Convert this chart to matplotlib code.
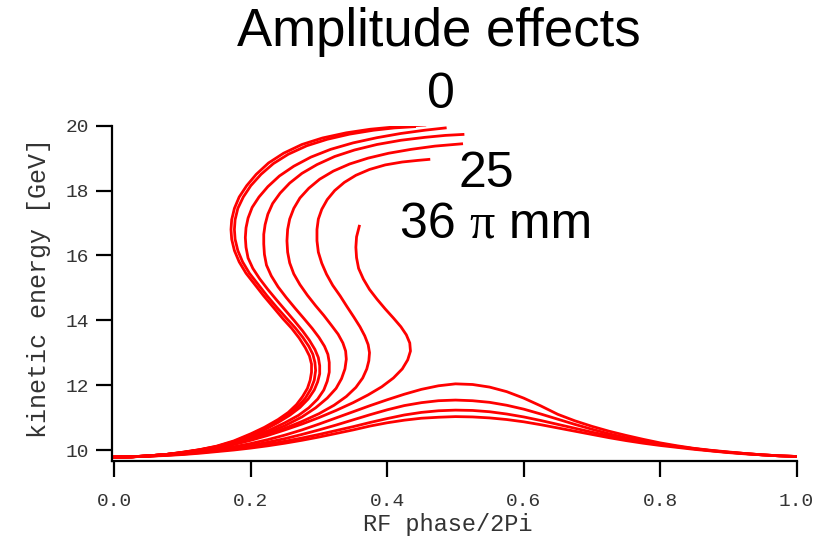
import matplotlib
matplotlib.use('Agg')
import matplotlib.pyplot as plt
from matplotlib.offsetbox import TextArea, HPacker, AnnotationBbox

# S-shaped tracks (phase, energy), from the outer one (0 pi mm) to the inner one (36 pi mm)
curve_a_x = [0.0, 0.025, 0.05, 0.075, 0.1, 0.125, 0.15, 0.175, 0.2, 0.22, 0.24, 0.255, 0.267, 0.276, 0.283, 0.287, 0.289, 0.289, 0.286, 0.280, 0.271, 0.26, 0.247, 0.233, 0.219, 0.206, 0.193, 0.183, 0.176, 0.172, 0.171, 0.172, 0.176, 0.183, 0.194, 0.208, 0.226, 0.248, 0.275, 0.305, 0.34, 0.375, 0.415, 0.455]
curve_a_y = [9.78, 9.79, 9.82, 9.86, 9.93, 10.01, 10.12, 10.28, 10.5, 10.7, 10.94, 11.16, 11.4, 11.65, 11.9, 12.15, 12.4, 12.65, 12.9, 13.15, 13.45, 13.75, 14.05, 14.4, 14.75, 15.1, 15.45, 15.8, 16.15, 16.5, 16.8, 17.1, 17.45, 17.8, 18.15, 18.5, 18.85, 19.15, 19.42, 19.62, 19.78, 19.89, 19.97, 20.02]

curve_b_x = [0.0, 0.025, 0.05, 0.075, 0.1, 0.125, 0.15, 0.175, 0.2, 0.22, 0.24, 0.256, 0.27, 0.28, 0.288, 0.293, 0.295, 0.294, 0.291, 0.285, 0.276, 0.265, 0.252, 0.238, 0.224, 0.211, 0.198, 0.188, 0.181, 0.177, 0.176, 0.177, 0.181, 0.189, 0.2, 0.215, 0.233, 0.255, 0.282, 0.312, 0.345, 0.38, 0.41, 0.44]
curve_b_y = [9.78, 9.79, 9.82, 9.86, 9.93, 10.01, 10.11, 10.26, 10.47, 10.66, 10.9, 11.12, 11.36, 11.6, 11.88, 12.15, 12.45, 12.7, 12.95, 13.2, 13.48, 13.77, 14.07, 14.4, 14.75, 15.1, 15.45, 15.8, 16.15, 16.5, 16.8, 17.1, 17.45, 17.8, 18.15, 18.5, 18.83, 19.12, 19.38, 19.58, 19.74, 19.86, 19.93, 19.97]

curve_c_x = [0.0, 0.025, 0.05, 0.075, 0.1, 0.125, 0.15, 0.175, 0.2, 0.22, 0.24, 0.257, 0.272, 0.284, 0.293, 0.298, 0.301, 0.301, 0.299, 0.294, 0.286, 0.276, 0.264, 0.251, 0.238, 0.225, 0.213, 0.203, 0.196, 0.193, 0.192, 0.193, 0.196, 0.202, 0.212, 0.225, 0.242, 0.263, 0.288, 0.317, 0.35, 0.385, 0.42, 0.455, 0.485]
curve_c_y = [9.78, 9.79, 9.82, 9.86, 9.92, 10.0, 10.1, 10.24, 10.43, 10.62, 10.85, 11.07, 11.31, 11.57, 11.85, 12.1, 12.35, 12.6, 12.85, 13.1, 13.38, 13.67, 13.98, 14.3, 14.62, 14.95, 15.28, 15.6, 15.92, 16.25, 16.55, 16.85, 17.15, 17.48, 17.8, 18.12, 18.45, 18.75, 19.03, 19.27, 19.47, 19.63, 19.76, 19.86, 19.93]

curve_d_x = [0.0, 0.025, 0.05, 0.075, 0.1, 0.125, 0.15, 0.175, 0.2, 0.225, 0.25, 0.27, 0.285, 0.298, 0.307, 0.312, 0.315, 0.315, 0.313, 0.308, 0.3, 0.29, 0.278, 0.265, 0.252, 0.24, 0.23, 0.223, 0.22, 0.219, 0.219, 0.221, 0.225, 0.232, 0.243, 0.257, 0.275, 0.297, 0.323, 0.352, 0.385, 0.42, 0.455, 0.485, 0.511]
curve_d_y = [9.78, 9.79, 9.82, 9.86, 9.92, 10.0, 10.09, 10.22, 10.39, 10.59, 10.84, 11.07, 11.3, 11.57, 11.85, 12.12, 12.4, 12.7, 12.95, 13.2, 13.47, 13.75, 14.05, 14.37, 14.7, 15.03, 15.37, 15.7, 16.03, 16.35, 16.65, 16.95, 17.27, 17.6, 17.92, 18.23, 18.53, 18.8, 19.05, 19.25, 19.42, 19.55, 19.64, 19.7, 19.73]

curve_e_x = [0.0, 0.025, 0.05, 0.075, 0.1, 0.125, 0.15, 0.175, 0.2, 0.225, 0.25, 0.275, 0.295, 0.312, 0.325, 0.333, 0.338, 0.34, 0.339, 0.335, 0.328, 0.318, 0.307, 0.295, 0.283, 0.272, 0.263, 0.257, 0.254, 0.253, 0.254, 0.257, 0.263, 0.272, 0.285, 0.301, 0.321, 0.345, 0.372, 0.402, 0.435, 0.47, 0.509]
curve_e_y = [9.78, 9.79, 9.82, 9.86, 9.91, 9.99, 10.08, 10.2, 10.35, 10.53, 10.75, 11.02, 11.3, 11.6, 11.9, 12.2, 12.5, 12.8, 13.05, 13.3, 13.57, 13.85, 14.15, 14.45, 14.77, 15.1, 15.43, 15.77, 16.1, 16.45, 16.8, 17.12, 17.45, 17.77, 18.07, 18.35, 18.6, 18.82, 19.0, 19.15, 19.27, 19.37, 19.44]

curve_f_x = [0.0, 0.025, 0.05, 0.075, 0.1, 0.125, 0.15, 0.175, 0.2, 0.225, 0.25, 0.275, 0.3, 0.322, 0.34, 0.354, 0.364, 0.37, 0.373, 0.374, 0.372, 0.367, 0.36, 0.351, 0.341, 0.331, 0.32, 0.311, 0.304, 0.299, 0.297, 0.297, 0.299, 0.304, 0.312, 0.323, 0.337, 0.354, 0.374, 0.397, 0.422, 0.445, 0.461]
curve_f_y = [9.78, 9.79, 9.82, 9.86, 9.91, 9.98, 10.07, 10.18, 10.32, 10.48, 10.67, 10.88, 11.12, 11.38, 11.65, 11.93, 12.22, 12.5, 12.75, 13.0, 13.25, 13.52, 13.8, 14.1, 14.42, 14.75, 15.08, 15.42, 15.76, 16.1, 16.45, 16.8, 17.12, 17.42, 17.72, 18.0, 18.25, 18.47, 18.65, 18.79, 18.88, 18.93, 18.96]

curve_g_x = [0.0, 0.025, 0.05, 0.075, 0.1, 0.125, 0.15, 0.175, 0.2, 0.225, 0.25, 0.275, 0.3, 0.325, 0.35, 0.372, 0.392, 0.409, 0.422, 0.43, 0.434, 0.433, 0.428, 0.42, 0.409, 0.397, 0.385, 0.374, 0.365, 0.358, 0.355, 0.354, 0.355, 0.359]
curve_g_y = [9.78, 9.79, 9.82, 9.86, 9.91, 9.98, 10.06, 10.17, 10.3, 10.45, 10.62, 10.8, 11.0, 11.22, 11.46, 11.7, 11.95, 12.22, 12.5, 12.78, 13.05, 13.3, 13.55, 13.8, 14.07, 14.35, 14.65, 14.95, 15.27, 15.6, 15.93, 16.25, 16.57, 16.9]

# hump-shaped tracks that go over the whole bucket
hump_x = [0.0, 0.025, 0.05, 0.075, 0.1, 0.125, 0.15, 0.175, 0.2, 0.225, 0.25, 0.275, 0.3, 0.325, 0.35, 0.375, 0.4, 0.425, 0.45, 0.475, 0.5,
	0.525, 0.55, 0.575, 0.6, 0.625, 0.65, 0.675, 0.7, 0.725, 0.75, 0.775, 0.8, 0.825, 0.85, 0.875, 0.9, 0.925, 0.95, 0.975, 1.0]
hump_1 = [9.78, 9.79, 9.81, 9.85, 9.89, 9.95, 10.02, 10.1, 10.2, 10.32, 10.46, 10.62, 10.8, 10.99, 11.18, 11.37, 11.55, 11.72, 11.87, 11.98, 12.04,
	12.02, 11.94, 11.8, 11.6, 11.36, 11.1, 10.9, 10.73, 10.58, 10.45, 10.33, 10.22, 10.13, 10.05, 9.99, 9.94, 9.89, 9.85, 9.82, 9.80]
hump_2 = [9.78, 9.79, 9.81, 9.84, 9.88, 9.93, 9.99, 10.06, 10.14, 10.24, 10.35, 10.48, 10.62, 10.77, 10.93, 11.09, 11.24, 11.37, 11.46, 11.52, 11.54,
	11.52, 11.47, 11.38, 11.26, 11.11, 10.95, 10.79, 10.64, 10.5, 10.38, 10.28, 10.19, 10.11, 10.04, 9.98, 9.93, 9.89, 9.85, 9.82, 9.80]
hump_3 = [9.78, 9.79, 9.81, 9.84, 9.87, 9.92, 9.97, 10.03, 10.1, 10.18, 10.27, 10.37, 10.48, 10.6, 10.72, 10.85, 10.97, 11.08, 11.16, 11.21, 11.23,
	11.22, 11.18, 11.11, 11.02, 10.91, 10.79, 10.67, 10.55, 10.44, 10.34, 10.25, 10.17, 10.1, 10.04, 9.98, 9.93, 9.89, 9.85, 9.82, 9.80]
hump_4 = [9.78, 9.79, 9.81, 9.83, 9.86, 9.9, 9.95, 10.0, 10.06, 10.13, 10.21, 10.3, 10.4, 10.51, 10.62, 10.74, 10.84, 10.92, 10.98, 11.01, 11.03,
	11.02, 10.99, 10.94, 10.87, 10.78, 10.68, 10.58, 10.48, 10.38, 10.29, 10.21, 10.14, 10.08, 10.02, 9.97, 9.92, 9.88, 9.85, 9.82, 9.80]

x_ticks = [0.0, 0.2, 0.4, 0.6, 0.8, 1.0]
y_ticks = [10, 12, 14, 16, 18, 20]

fig = plt.figure(figsize=(8.27, 5.41), dpi=100)
ax = fig.add_axes([0.1351, 0.1484, 0.8282, 0.6193])

s_tracks = [(curve_a_x, curve_a_y), (curve_b_x, curve_b_y), (curve_c_x, curve_c_y), (curve_d_x, curve_d_y),
	(curve_e_x, curve_e_y), (curve_f_x, curve_f_y), (curve_g_x, curve_g_y)]
for xs, ys in s_tracks:
	ax.plot(xs, ys, color='red', linewidth=2.0, solid_joinstyle='round')
for hy in [hump_1, hump_2, hump_3, hump_4]:
	ax.plot(hump_x, hy, color='red', linewidth=2.0, solid_joinstyle='round')

ax.set_xlim(-0.0038, 1.0)
ax.set_ylim(9.67, 20)
ax.spines['top'].set_visible(False)
ax.spines['right'].set_visible(False)
ax.spines['left'].set_linewidth(1.6)
ax.spines['bottom'].set_linewidth(1.6)
ax.set_xticks(x_ticks)
ax.set_xticklabels([f'{t:.1f}' for t in x_ticks])
ax.set_yticks(y_ticks)
ax.tick_params(axis='both', direction='out', length=11.5, width=1.6, labelsize=14, colors='black')
ax.tick_params(axis='x', pad=12)
ax.tick_params(axis='y', pad=5)
for lab in ax.get_xticklabels() + ax.get_yticklabels():
	lab.set_family('Liberation Mono')
	lab.set_color('#333333')

ax.set_xlabel('RF phase/2Pi', family='Liberation Mono', fontsize=17, color='#333333')
ax.xaxis.set_label_coords(0.49, -0.155)
ax.set_ylabel('kinetic energy [GeV]', family='Liberation Mono', fontsize=18, color='#333333')
ax.yaxis.set_label_coords(-0.089, 0.515)

fig.text(439 / 827, 1 - 32 / 541, 'Amplitude effects', family='Liberation Sans', fontsize=38, ha='center', va='center')
fig.text(441 / 827, 1 - 95 / 541, '0', family='Liberation Sans', fontsize=36, ha='center', va='center')
fig.text(486 / 827, 1 - 174 / 541, '25', family='Liberation Sans', fontsize=36, ha='center', va='center')

# "36 pi mm" with a serif pi, like the symbol font of the original
sans = dict(family='Liberation Sans', size=36)
parts = HPacker(children=[TextArea('36 ', textprops=sans),
	TextArea('π', textprops=dict(family='Liberation Serif', size=36)),
	TextArea(' mm', textprops=sans)], align='baseline', pad=0, sep=0)
box = AnnotationBbox(parts, (496, 541 - 225), xycoords='figure pixels', frameon=False, box_alignment=(0.5, 0.5), pad=0)
fig.add_artist(box)

fig.savefig('out.png', dpi=100)
